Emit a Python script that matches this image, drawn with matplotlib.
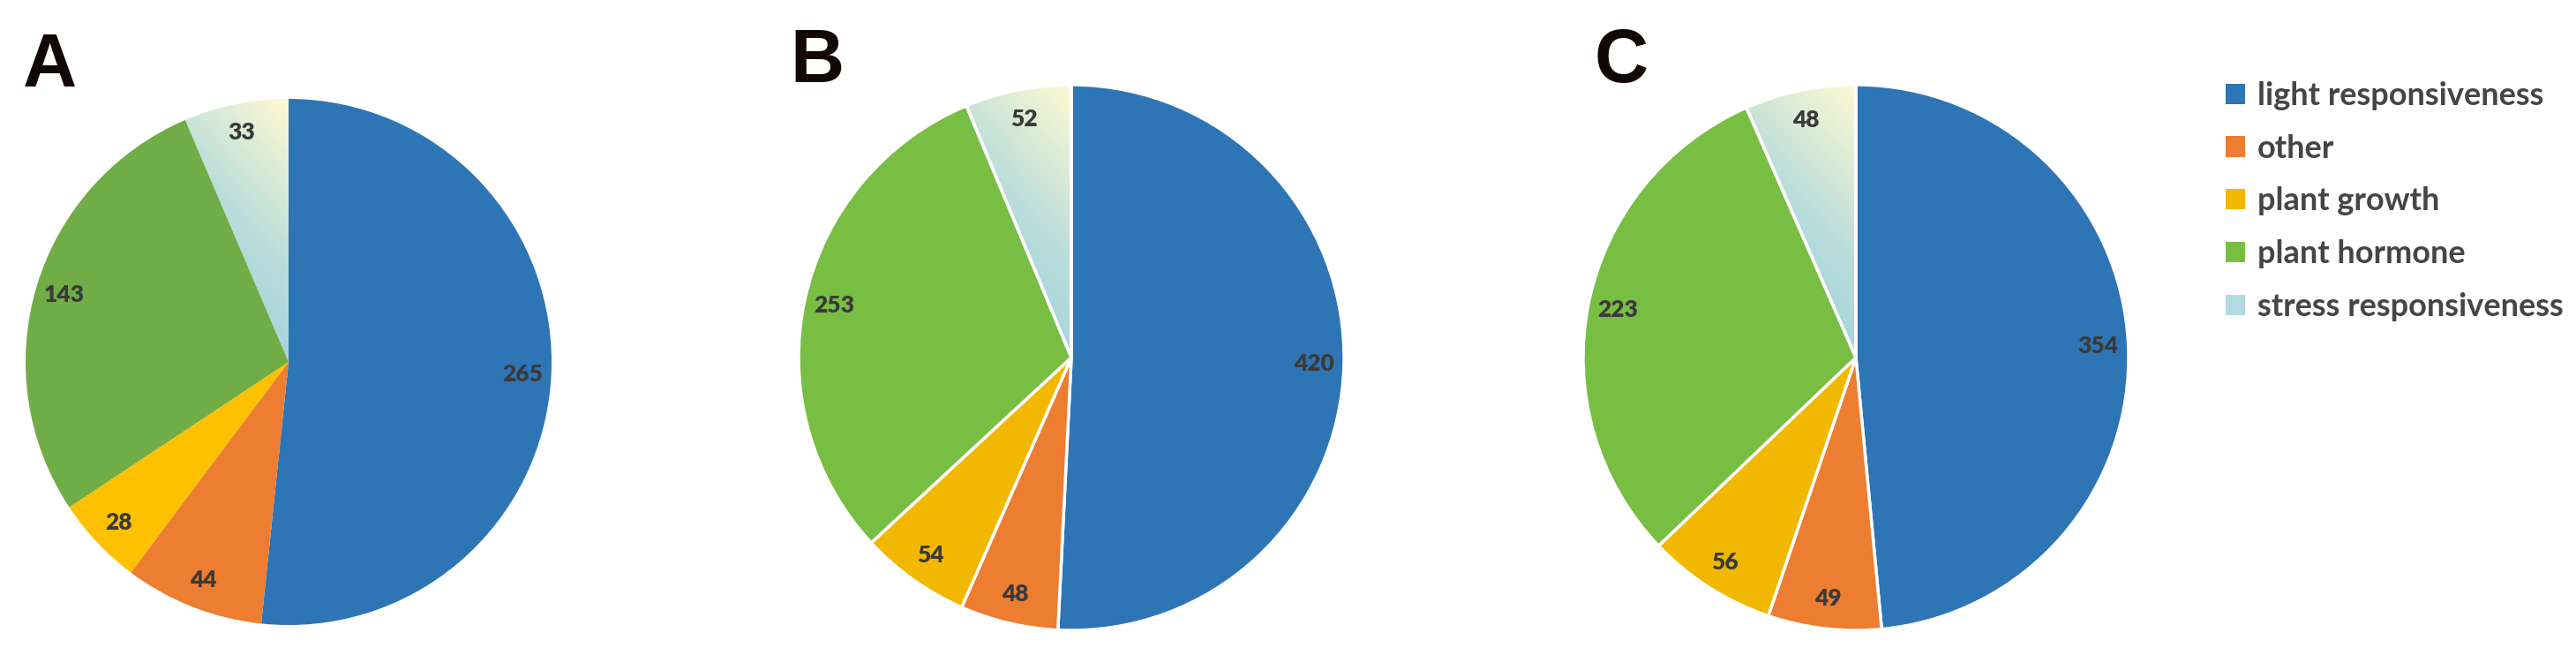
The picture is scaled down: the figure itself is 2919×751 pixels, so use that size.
import numpy as np
import matplotlib.pyplot as plt
from matplotlib.patches import Patch
from matplotlib.colors import LinearSegmentedColormap

W, H = 2919, 751

categories = ['light responsiveness', 'other', 'plant growth', 'plant hormone', 'stress responsiveness']
values_A = [265, 44, 28, 143, 33]
values_B = [420, 48, 54, 253, 52]
values_C = [354, 49, 56, 223, 48]
panel_labels = ['A', 'B', 'C']

colors_A = ['#2E75B6', '#ED7D31', '#FFC000', '#70AD47', '#A9D4DC']
colors_BC = ['#2E75B6', '#ED7D31', '#F2B800', '#78BE43', '#A9D4DC']
legend_colors = ['#2E75B6', '#ED7D31', '#F2B800', '#78BE43', '#B3DAE0']

grad_cmap = LinearSegmentedColormap.from_list('stress', ['#9BCFDC', '#B9DDDB', '#FBF8D2'])

# pie geometry in pixels: centre x, centre y (from top), radius
layout = [(327, 410, 298), (1214, 405, 309), (2103, 405, 309)]
letter_pos = [(26, 98), (895, 93), (1806, 93)]
edge_widths = [0.0, 2.5, 2.5]

fig = plt.figure(figsize=(W / 100, H / 100), dpi=100)
fig.patch.set_facecolor('white')

all_values = [values_A, values_B, values_C]
all_colors = [colors_A, colors_BC, colors_BC]

for k in range(3):
    cx, cy, r = layout[k]
    ax = fig.add_axes([(cx - r) / W, 1 - (cy + r) / H, 2 * r / W, 2 * r / H])
    vals = all_values[k]
    total = sum(vals)
    wedges, texts, autotexts = ax.pie(
        vals, colors=all_colors[k], startangle=90, counterclock=False,
        radius=1.0, pctdistance=0.89,
        autopct=lambda p, t=total: f'{int(round(p * t / 100))}',
        wedgeprops=dict(linewidth=edge_widths[k], edgecolor='white'),
        textprops=dict(color='#3A3A3A', fontsize=19, fontweight='heavy', family='Lato'))
    ax.set_xlim(-1, 1)
    ax.set_ylim(-1, 1)
    ax.set_aspect('equal')
    ax.axis('off')

    # gradient fill for the stress responsiveness wedge
    w = wedges[-1]
    bb = w.get_path().get_extents(w.get_patch_transform())
    x0, y0, x1, y1 = bb.x0, bb.y0, bb.x1, bb.y1
    gx, gy = np.meshgrid(np.linspace(0, 1, 200), np.linspace(0, 1, 200))
    t = np.clip(0.35 * gx + 0.8 * gy - 0.12, 0, 1)
    im = ax.imshow(t, cmap=grad_cmap, origin='lower', extent=(x0, x1, y0, y1),
                   vmin=0, vmax=1, zorder=w.get_zorder() - 0.1, interpolation='bilinear')
    im.set_clip_path(w)
    w.set_facecolor('none')
    ax.set_xlim(-1, 1)
    ax.set_ylim(-1, 1)
    for tx in autotexts:
        tx.set_zorder(5)

    lx, ly = letter_pos[k]
    fig.text(lx / W, 1 - ly / H, panel_labels[k], fontsize=61, fontweight='bold',
             color='#120606', family='Liberation Sans', ha='left', va='baseline')

handles = [Patch(facecolor=c, edgecolor='none') for c in legend_colors]
leg = fig.legend(handles, categories, loc='upper left',
                 bbox_to_anchor=(2522 / W, 1 - 92 / H), frameon=False,
                 prop=dict(family='Lato', weight='bold', size=26),
                 labelcolor='#454545',
                 handlelength=0.61, handleheight=0.61, handletextpad=0.39,
                 labelspacing=0.74, borderpad=0, borderaxespad=0)

fig.savefig('out.png', dpi=100, facecolor='white')
